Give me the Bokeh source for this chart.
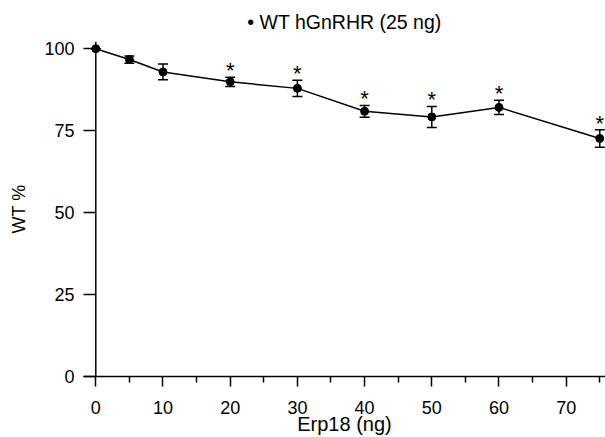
from bokeh.plotting import figure
from bokeh.models import (ColumnDataSource, Whisker, TeeHead, Title,
                          Span, FixedTicker, Range1d)
from bokeh.embed import file_html
from bokeh.resources import INLINE
from bokeh.core.properties import value

# ---- data ----
erp18_ng = [0, 5, 10, 20, 30, 40, 50, 60, 75]
wt_percent = [100, 96.7, 92.9, 89.9, 87.9, 80.9, 79.2, 82.1, 72.6]
sem = [0, 1.1, 2.4, 1.4, 2.5, 1.8, 3.2, 2.2, 2.65]
significant = [False, False, False, True, True, True, True, True, True]
x_major_ticks = [0, 10, 20, 30, 40, 50, 60, 70]
x_minor_ticks = [5, 15, 25, 35, 45, 55, 65, 75]
y_ticks = [0, 25, 50, 75, 100]
series_label = "WT hGnRHR (25 ng)"
x_label = "Erp18 (ng)"
y_label = "WT %"

FONT = "Liberation Sans"
FS = "18px"

upper = [v + e for v, e in zip(wt_percent, sem)]
lower = [v - e for v, e in zip(wt_percent, sem)]
src = ColumnDataSource(dict(x=erp18_ng, y=wt_percent, upper=upper, lower=lower))
sig_x = [x for x, s in zip(erp18_ng, significant) if s]
sig_u = [u for u, s in zip(upper, significant) if s]
star_src = ColumnDataSource(dict(x=sig_x, y=sig_u, t=["*"] * len(sig_x)))

p = figure(width=605, height=437, x_range=Range1d(-1.83, 75.85), y_range=Range1d(0, 102.2),
           output_backend="svg", toolbar_location=None,
           min_border_left=83, min_border_right=0, min_border_top=40, min_border_bottom=61)
p.outline_line_color = None
p.xgrid.visible = False
p.ygrid.visible = False

# legend-like header
p.title = Title(text="\u2022 " + series_label, align="center", text_font=FONT,
                text_font_size="19.5px", text_font_style="normal", text_color="black",
                standoff=17)

# x axis
xa = p.xaxis[0]
xa.ticker = FixedTicker(ticks=x_major_ticks, minor_ticks=x_minor_ticks)
xa.axis_line_width = 1.5
xa.axis_line_color = "black"
xa.major_tick_line_width = 1.5
xa.major_tick_line_color = "black"
xa.minor_tick_line_width = 1.5
xa.minor_tick_line_color = "black"
xa.major_tick_in = 0
xa.major_tick_out = 10
xa.minor_tick_in = 0
xa.minor_tick_out = 6
xa.major_label_text_font = FONT
xa.major_label_text_font_size = FS
xa.major_label_text_color = "black"
xa.major_label_standoff = 14
xa.axis_label = x_label
xa.axis_label_text_font = FONT
xa.axis_label_text_font_size = "20px"
xa.axis_label_text_font_style = "normal"
xa.axis_label_text_color = "black"
xa.axis_label_standoff = -4

# y axis (line drawn separately at x=0; ticks reach from frame edge to it)
ya = p.yaxis[0]
ya.ticker = FixedTicker(ticks=y_ticks)
ya.axis_line_alpha = 0
ya.major_tick_line_width = 1.5
ya.major_tick_line_color = "black"
ya.major_tick_in = 12
ya.major_tick_out = 0
ya.minor_tick_line_color = None
ya.major_label_text_font = FONT
ya.major_label_text_font_size = FS
ya.major_label_text_color = "black"
ya.major_label_standoff = 9
ya.axis_label = y_label
ya.axis_label_text_font = FONT
ya.axis_label_text_font_size = FS
ya.axis_label_text_font_style = "normal"
ya.axis_label_text_color = "black"
ya.axis_label_standoff = 12

p.add_layout(Span(location=0, dimension="height", line_color="black", line_width=1.5))

# data
p.line("x", "y", source=src, line_color="black", line_width=1.5)
p.add_layout(Whisker(source=src, base="x", upper="upper", lower="lower",
                     line_color="black", line_width=1.5,
                     upper_head=TeeHead(size=10, line_color="black", line_width=1.5),
                     lower_head=TeeHead(size=10, line_color="black", line_width=1.5)))
p.scatter("x", "y", source=src, size=8, fill_color="black", line_color="black")
p.text("x", "y", text="t", source=star_src, text_align="center", text_baseline="alphabetic",
       y_offset=-6.5, text_font=value(FONT), text_font_size="22px", text_color="black")

open("out.html", "w").write(file_html(p, INLINE))
